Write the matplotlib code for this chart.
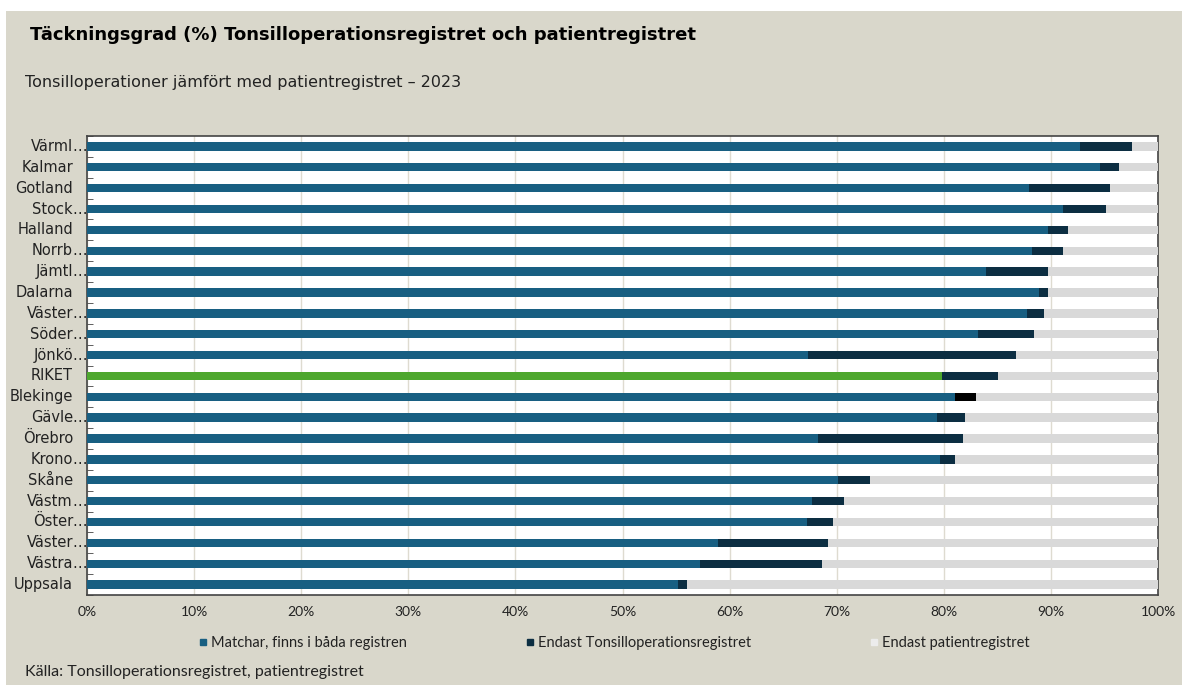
import numpy as np
import matplotlib
matplotlib.use("Agg")
import matplotlib.pyplot as plt
from matplotlib.patches import Rectangle
from matplotlib.lines import Line2D
from matplotlib.transforms import blended_transform_factory

plt.rcParams['font.family'] = ['Lato', 'DejaVu Sans']

regions = ["Värml…", "Kalmar", "Gotland", "Stock…", "Halland", "Norrb…", "Jämtl…",
           "Dalarna", "Väster…", "Söder…", "Jönkö…", "RIKET", "Blekinge", "Gävle…",
           "Örebro", "Krono…", "Skåne", "Västm…", "Öster…", "Väster…", "Västra…", "Uppsala"]
# cumulative end points (%)
match_end = [92.7, 94.6, 88.0, 91.1, 89.7, 88.2, 83.9, 88.9, 87.8, 83.2, 67.3,
             79.8, 81.0, 79.4, 68.3, 79.6, 70.1, 67.7, 67.2, 58.9, 57.2, 55.2]
tonsil_end = [97.6, 96.4, 95.5, 95.1, 91.6, 91.1, 89.7, 89.7, 89.4, 88.4, 86.7,
              85.1, 83.0, 82.0, 81.8, 81.0, 73.1, 70.7, 69.7, 69.2, 68.6, 56.0]

match = np.array(match_end)
tonsil = np.array(tonsil_end) - match
patient = 100 - np.array(tonsil_end)

c_match = "#185f82"
c_tonsil = "#0c2e42"
c_patient = "#d9d9d9"
c_riket = "#4ea72e"
bg = "#d9d7cb"
txt = "#222222"

fig = plt.figure(figsize=(11.82, 6.85), dpi=100, facecolor=bg)
fig.add_artist(Rectangle((0, 1 - 11 / 685), 1, 11 / 685, transform=fig.transFigure,
                         facecolor="white", edgecolor="none"))
fig.add_artist(Rectangle((0, 0), 6 / 1182, 1, transform=fig.transFigure,
                         facecolor="white", edgecolor="none"))

ax = fig.add_axes([87 / 1182, 1 - 595 / 685, (1158 - 87) / 1182, (595 - 136) / 685])
y = np.arange(len(regions))
h = 0.4

cols1 = [c_riket if r == "RIKET" else c_match for r in regions]
cols2 = ["#000000" if r == "Blekinge" else c_tonsil for r in regions]
ax.barh(y, match / 100, height=h, color=cols1, zorder=3)
ax.barh(y, tonsil / 100, left=match / 100, height=h, color=cols2, zorder=3)
ax.barh(y, patient / 100, left=np.array(tonsil_end) / 100, height=h, color=c_patient, zorder=3)

ax.set_xlim(0, 1)
ax.set_ylim(len(regions) - 0.5, -0.5)
ax.set_xticks(np.arange(0, 1.01, 0.1))
ax.set_xticklabels([f"{int(v)}%" for v in np.arange(0, 101, 10)], fontsize=10, color=txt)
ax.tick_params(axis="x", length=0, pad=8)
ax.set_yticks(y)
ax.set_yticklabels([])
ax.tick_params(axis="y", length=0)
ax.set_yticks(np.arange(-0.5, len(regions), 1), minor=True)
ax.tick_params(axis="y", which="minor", length=4, direction="in", color="#444444")
ax.grid(axis="x", color="#dedbd0", linewidth=1, zorder=0)
for s in ax.spines.values():
    s.set_color("#444444")
    s.set_linewidth(1.2)

# category labels: text right-aligned, ellipsis hangs past the edge
tr = blended_transform_factory(fig.transFigure, ax.transData)
xr = 73 / 1182
for yi, lab in zip(y, regions):
    base = lab.rstrip("…")
    ax.text(xr, yi, base, transform=tr, ha="right", va="center",
            fontsize=10.5, family="DejaVu Sans", color=txt)
    if lab.endswith("…"):
        ax.text(xr - 1 / 1182, yi, "…", transform=tr, ha="left", va="center",
                fontsize=10.5, family="DejaVu Sans", color=txt)

handles = [Line2D([], [], marker="s", linestyle="none", markersize=5, color=c)
           for c in [c_match, c_tonsil, "#ececec"]]
labels = ["Matchar, finns i båda registren", "Endast Tonsilloperationsregistret",
          "Endast patientregistret"]
fig.legend(handles, labels, loc="center", bbox_to_anchor=(0.52, 1 - 643 / 685), ncol=3,
           frameon=False, fontsize=10.5, handlelength=0.5, handletextpad=0.3,
           columnspacing=8.2, labelcolor=txt)

fig.text(30 / 1182, 1 - 35 / 685, "Täckningsgrad (%) Tonsilloperationsregistret och patientregistret",
         fontsize=13, fontweight="bold", family="DejaVu Sans", va="center", ha="left",
         color="black")
fig.text(25 / 1182, 1 - 82 / 685, "Tonsilloperationer jämfört med patientregistret – 2023",
         fontsize=11.5, family="DejaVu Sans", va="center", ha="left", color=txt)
fig.text(25 / 1182, 1 - 672 / 685, "Källa: Tonsilloperationsregistret, patientregistret",
         fontsize=11.5, va="center", ha="left", color=txt)

fig.savefig("out.png", dpi=100, facecolor=bg)
